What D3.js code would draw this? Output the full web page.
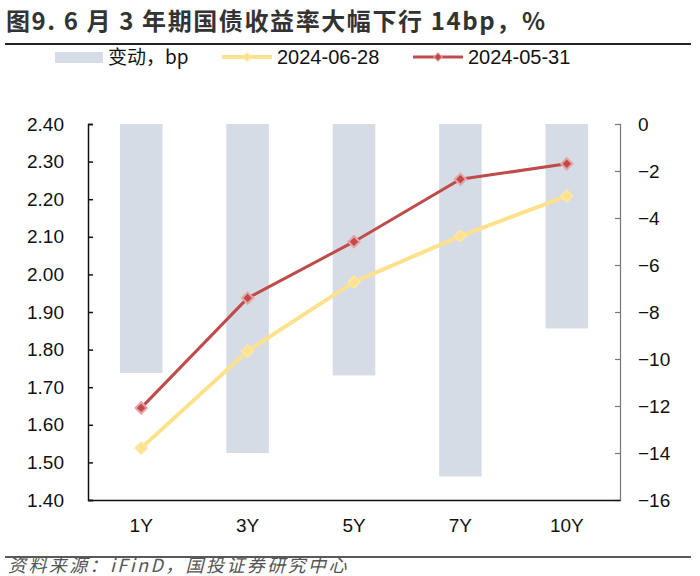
<!DOCTYPE html>
<html><head><meta charset="utf-8">
<script src="https://cdn.jsdelivr.net/npm/d3@7"></script>
<style>body{margin:0;background:#fff}svg{display:block}</style>
</head><body>
<svg id="c" width="700" height="576"></svg>
<script>
const categories = ["1Y","3Y","5Y","7Y","10Y"];
const changeBp = [-10.6,-14.0,-10.7,-15.0,-8.7];
const y20240628 = [1.538,1.796,1.980,2.102,2.208];
const y20240531 = [1.645,1.937,2.087,2.253,2.294];
const leftTicks = [1.40,1.50,1.60,1.70,1.80,1.90,2.00,2.10,2.20,2.30,2.40];
const rightTicks = [0,-2,-4,-6,-8,-10,-12,-14,-16];
const seriesNames = ["变动，bp","2024-06-28","2024-05-31"];

const svg = d3.select("#c");
const L=88, R=620, T=124, B=500;
const font = "Liberation Sans, Arial, sans-serif";
const red="#bf4b4a", yellow="#fde18b", barC="#d5dce5";

// Title
svg.append("text").attr("x",6).attr("y",30).attr("font-family","'Noto Sans CJK SC', sans-serif")
  .attr("font-weight","bold").attr("font-size",24).attr("letter-spacing",1.6).attr("fill","#333")
  .text("图9. 6 月 3 年期国债收益率大幅下行 14bp，%");
svg.append("line").attr("x1",5).attr("x2",691).attr("y1",44).attr("y2",44).attr("stroke","#222").attr("stroke-width",2);

const x = d3.scaleBand().domain(categories).range([L,R]);
const yL = d3.scaleLinear().domain([1.4,2.4]).range([B,T]);
const yR = d3.scaleLinear().domain([-16,0]).range([B,T]);

// bars
svg.append("g").selectAll("rect").data(categories).join("rect")
  .attr("x",d=>x(d)+x.bandwidth()*0.3).attr("width",x.bandwidth()*0.4)
  .attr("y",yR(0)).attr("height",(d,i)=>yR(changeBp[i])-yR(0)).attr("fill",barC);

// axes
const gL = svg.append("g").attr("transform",`translate(${L},0)`)
  .call(d3.axisLeft(yL).tickValues(leftTicks).tickFormat(d3.format(".2f")).tickSizeInner(-5).tickSizeOuter(-5).tickPadding(24));
gL.select(".domain").attr("stroke","#111").attr("stroke-width",1.5);
gL.selectAll(".tick line").attr("stroke","#111").attr("stroke-width",1.5);
gL.selectAll("text").attr("font-family",font).attr("font-size",19).attr("fill","#111");

const gR = svg.append("g").attr("transform",`translate(${R},0)`)
  .call(d3.axisRight(yR).tickValues(rightTicks).tickFormat(d3.format("d")).tickSizeInner(-5).tickSizeOuter(-5).tickPadding(18));
gR.select(".domain").attr("stroke","#777").attr("stroke-width",1.2);
gR.selectAll(".tick line").attr("stroke","#777").attr("stroke-width",1.2);
gR.selectAll("text").attr("font-family",font).attr("font-size",19).attr("fill","#111");

const gB = svg.append("g").attr("transform",`translate(0,${B})`)
  .call(d3.axisBottom(x).tickSize(0).tickPadding(19));
gB.select(".domain").attr("stroke","#111").attr("stroke-width",1.5);
gB.selectAll("text").attr("font-family",font).attr("font-size",19).attr("fill","#111");

// lines
const cx = d=>x(d)+x.bandwidth()/2;
function drawLine(vals,color,stroke,w,mk){
  const line = d3.line().x((d,i)=>cx(categories[i])).y(d=>yL(d));
  svg.append("path").datum(vals).attr("d",line).attr("fill","none").attr("stroke",color).attr("stroke-width",w);
  svg.append("g").selectAll("path").data(vals).join("path")
    .attr("d",d3.symbol(d3.symbolSquare, mk*mk))
    .attr("transform",(d,i)=>`translate(${cx(categories[i])},${yL(d)}) rotate(45)`)
    .attr("fill",color).attr("stroke",stroke).attr("stroke-width",2);
}
drawLine(y20240628,yellow,"#fde6a0",4,8);
drawLine(y20240531,red,"#e8a4a4",3,8);

// legend
const lg = svg.append("g").attr("font-family",font).attr("font-size",20).attr("fill","#111");
lg.append("rect").attr("x",55).attr("y",52).attr("width",48).attr("height",11).attr("fill",barC);
lg.append("text").attr("x",108).attr("y",64).attr("font-family","'Noto Sans CJK SC', "+font).attr("font-size",19).text(seriesNames[0]);
function legLine(x0,color,stroke,w,label){
  lg.append("line").attr("x1",x0).attr("x2",x0+50).attr("y1",57).attr("y2",57).attr("stroke",color).attr("stroke-width",w);
  lg.append("path").attr("d",d3.symbol(d3.symbolSquare,36)).attr("transform",`translate(${x0+25},57) rotate(45)`).attr("fill",color).attr("stroke",stroke);
  lg.append("text").attr("x",x0+55).attr("y",64).text(label);
}
legLine(222,yellow,"#fde6a0",4,seriesNames[1]);
legLine(413,red,"#e8a4a4",3,seriesNames[2]);

// footer
svg.append("line").attr("x1",5).attr("x2",691).attr("y1",557).attr("y2",557).attr("stroke","#222").attr("stroke-width",1.5);
svg.append("text").attr("x",8).attr("y",572).attr("font-family","'Noto Sans CJK SC', sans-serif")
  .attr("font-style","italic").attr("font-size",18).attr("letter-spacing",2.4).attr("fill","#555")
  .text("资料来源：iFinD，国投证券研究中心");
</script>
</body></html>
